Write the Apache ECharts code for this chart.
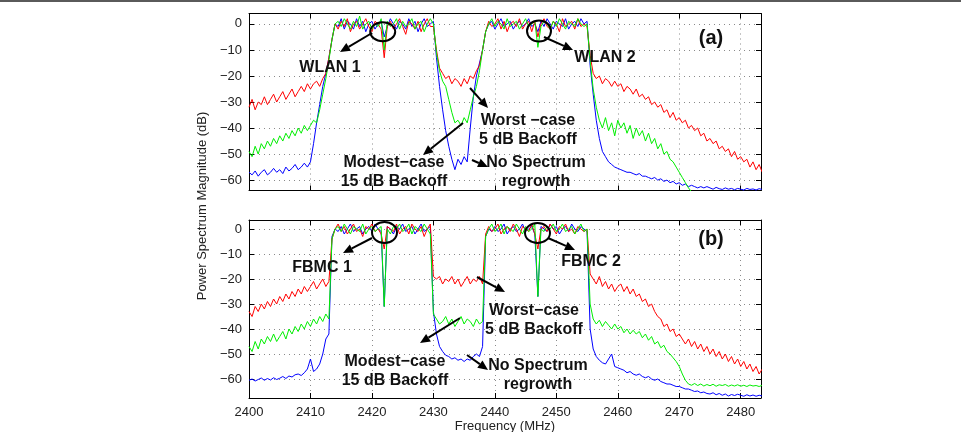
<!DOCTYPE html>
<html>
<head>
<meta charset="utf-8">
<script src="https://cdn.jsdelivr.net/npm/echarts@6/dist/echarts.min.js"></script>
<style>
	html, body { margin: 0; padding: 0; background: #fff; }
	#main { width: 961px; height: 432px; }
</style>
</head>
<body>
<div id="main"></div>
<script>
// sample grid of the spectrum (MHz), 0.5 MHz apart
var fStart = 2400, fStep = 0.5, nPts = 168;
var freq = [];
for(var i = 0; i < nPts; i++) {
	freq.push(fStart + i * fStep);
}

var xTicks = [2400, 2410, 2420, 2430, 2440, 2450, 2460, 2470, 2480];
var yTicks = [0, -10, -20, -30, -40, -50, -60];

/* (a) WLAN, one row = 5 MHz */
var redA = [
	-32, -29, -33, -30, -31, -28, -31, -29, -27, -30,
	-28, -26, -29, -27, -25, -28, -26, -24, -26, -23,
	-25, -23, -22, -24, -21, -19, -13, -6, 0, -2,
	1, -1, 2, -3, 0, 1, -2, 0, 2, -1,
	-3, 1, 0, -2, -13, -1, 1, -2, 0, 2,
	-1, -4, 1, 0, -2, 1, -3, 0, 2, -1,
	-1, -10, -17, -19, -21, -20, -23, -21, -22, -24,
	-21, -23, -20, -21, -18, -16, -10, -3, 1, -1,
	0, 2, -2, 1, -3, 0, 1, -1, 2, -2,
	0, 1, -3, 1, -5, 0, 2, -1, -2, 1,
	0, -3, 2, -1, 0, 1, -2, 2, -1, 0,
	-1, -12, -19, -21, -20, -23, -21, -22, -24, -22,
	-24, -23, -26, -24, -25, -27, -25, -28, -27, -29,
	-28, -31, -30, -32, -31, -34, -33, -36, -34, -37,
	-36, -38, -37, -40, -39, -41, -40, -43, -42, -45,
	-44, -46, -45, -48, -47, -49, -48, -51, -49, -52,
	-51, -53, -52, -55, -53, -56, -54, -57
];
var greenA = [
	-49, -51, -47, -50, -46, -48, -45, -47, -44, -46,
	-43, -45, -42, -44, -41, -43, -40, -42, -39, -41,
	-39, -37, -38, -33, -27, -21, -14, -6, 0, 1,
	-1, 2, 0, -2, 1, -1, 3, -2, 0, 1,
	-2, 0, -1, 2, -10, 1, -1, 0, 2, -2,
	1, -1, 0, 2, -2, 0, 1, -3, 0, 2,
	0, -11, -18, -22, -24, -29, -34, -38, -37, -39,
	-36, -38, -33, -28, -24, -18, -10, -3, 0, 2,
	-1, 1, 0, -2, 2, -1, 0, 1, -2, 0,
	2, -1, 0, 1, -9, -1, 1, 0, -2, 1,
	-1, 2, 0, -2, 1, 0, -1, 2, 0, -1,
	0, -14, -25, -32, -37, -40, -36, -41, -38, -43,
	-37, -40, -38, -42, -39, -44, -40, -43, -41, -45,
	-42, -46, -44, -48, -46, -50, -49, -52, -53, -55,
	-57, -59, -61, -63, -64.5, -65, -65, -65, -65, -65,
	-65, -65, -65, -65, -65, -65, -65, -65, -65, -65,
	-65, -65, -65, -65, -65, -65, -65, -65
];
var blueA = [
	-57, -58, -56.5, -58.5, -57, -56, -58, -57, -55.5, -57,
	-56, -57.5, -55, -56.5, -55.5, -54, -56, -55, -53.5, -55,
	-53, -46, -38, -31, -24, -19, -13, -6, 0, -1,
	2, -2, 1, 0, -2, 2, -1, 1, -3, 0,
	1, -2, 0, 1, -5, -1, 2, 0, -2, 1,
	0, -2, 2, -1, 1, -3, 0, 2, -1, 0,
	1, -13, -24, -33, -41, -47, -52, -56, -52, -54,
	-51, -53, -40, -28, -20, -15, -10, -3, 0, 1,
	-2, 0, 2, -1, 0, 1, -2, 0, 1, -1,
	0, 2, -1, 0, -3, 1, -1, 2, 0, -2,
	1, 0, -1, 2, -2, 0, 1, -1, 2, 0,
	1, -16, -27, -37, -44, -49, -51, -53, -54, -55,
	-55.5, -56, -56.5, -57, -57, -57.5, -58, -57.5, -58.5, -58.5,
	-59, -59.5, -59, -60, -59.5, -60.5, -60, -61, -60.5, -61.5,
	-61, -62, -61.5, -62.5, -62, -62.5, -63, -62.5, -63, -62.5,
	-63, -63.5, -62.8, -63.3, -63.6, -63, -63.5, -63.2, -63.7, -63.2,
	-63.5, -63.8, -63.2, -63.6, -63.4, -63.8, -63.3, -63.6
];

/* (b) FBMC */
var redB = [
	-33, -35, -31, -33, -30, -32, -29, -31, -28, -30,
	-27, -29, -26, -28, -25, -27, -24, -26, -23, -25,
	-23, -21, -24, -22, -20, -23, -21, -4, 0, 2,
	-1, 1, -2, 0, 2, -1, 0, -3, 1, 0,
	2, -1, 0, -2, -8, 1, 0, -1, 2, -2,
	0, 1, -2, 2, 0, -1, 1, -3, 0, 2,
	-19, -20, -19, -22, -20, -21, -19, -22, -20, -23,
	-21, -19, -22, -20, -21, -19, -22, -2, 1, -1,
	0, 2, -2, 0, 1, -1, 2, 0, -3, 1,
	0, -1, 2, -2, -8, 0, 1, -1, 2, 0,
	-2, 1, 0, 2, -1, 0, -2, 1, 0, -1,
	0, -18, -20, -22, -19, -23, -21, -24, -22, -25,
	-23, -22, -25, -23, -26, -24, -27, -26, -29, -28,
	-31, -30, -33, -35, -36, -39, -38, -41, -40, -43,
	-42, -44, -46, -44, -47, -45, -48, -46, -49, -47,
	-50, -48, -51, -49, -52, -50, -53, -51, -54, -52,
	-55, -53, -56, -54, -57, -55, -58, -56
];
var greenB = [
	-47, -49, -45, -48, -44, -46, -43, -45, -42, -45,
	-43, -41, -44, -40, -42, -39, -41, -38, -40, -37,
	-39, -36, -38, -35, -37, -34, -36, -4, 0, 1,
	-1, 2, 0, -2, 1, 0, -1, 2, -2, 0,
	1, -1, 0, 1, -31, 0, -2, 1, 0, 2,
	-1, 0, 2, -2, 1, 0, -1, 2, 0, -2,
	-34, -36, -38, -37, -35, -38, -36, -39, -37, -35,
	-38, -36, -37, -39, -36, -38, -37, -3, 0, 2,
	-1, 0, 2, -2, 1, 0, -1, 2, 0, -2,
	1, -1, 0, 2, -27, 0, -1, 1, 0, 2,
	-1, 0, 2, -1, 0, 1, -2, 0, 2, -1,
	0, -30, -36, -38, -36.5, -39, -37, -38.5, -40, -38,
	-40, -39, -41.5, -40, -42, -40.5, -42, -41, -43.5, -42,
	-44.5, -43, -46, -45, -47.5, -46.5, -49, -50, -51.5, -53,
	-55, -58, -60.5, -62, -62.5, -61.8, -62.6, -62, -62.8, -62.2,
	-62.7, -62.1, -62.9, -62.3, -62.6, -62.2, -62.9, -62.4, -62.8, -62.3,
	-62.9, -62.5, -63, -62.4, -62.8, -62.6, -63, -62.5
];
var blueB = [
	-60.5, -60, -60.8, -60.2, -59.6, -60.5, -59.8, -60.4, -59.5, -60.2,
	-59.7, -59, -59.8, -58.8, -59.2, -58.3, -58, -58.6, -57.5, -56,
	-52, -57, -56, -54, -50, -44, -42, -3, 0, -1,
	1, -2, 0, 2, -1, 0, 1, -2, 0, 1,
	-1, 2, 0, -1, -31, 1, 0, -2, 1, 0,
	2, -1, 0, 1, -2, 0, 2, -1, 0, 1,
	-33, -42, -47, -49, -50.5, -51, -52, -51.5, -52.5, -52,
	-53, -52, -52.5, -51, -50, -51, -47, -3, 0, -1,
	1, -1, 0, 2, -2, 0, 1, -1, 0, 2,
	-1, 0, 1, -2, -27, 1, 0, -1, 2, 0,
	1, -2, 0, 1, -1, 2, 0, -1, 1, 0,
	-1, -40, -48, -51, -52.5, -53.5, -54, -52, -50, -55,
	-55.5, -56, -56.5, -57.5, -57, -58, -58.5, -58, -59, -59.5,
	-59, -60, -60.5, -60, -61, -61.5, -62, -62, -62.5, -63,
	-63, -63.5, -64, -64, -64.5, -65, -64.8, -65.5, -65.2, -65.8,
	-66, -65.5, -66.3, -65.8, -66.5, -66, -66.8, -66.2, -66.6, -66.1,
	-66.5, -66.9, -66.3, -66.8, -66.4, -66.9, -66.5, -66.8
];

var FONT = '"Liberation Sans", Arial, Helvetica, sans-serif';

function pairs(vals) {
	var out = [];
	for(var i = 0; i < vals.length; i++) {
		out.push([freq[i], vals[i]]);
	}
	return out;
}

function minus(v) {
	return String(v).replace('-', '\u2212');
}

function xAx(grid, pos, labels) {
	return {
		type: 'value', gridIndex: grid, position: pos,
		min: 2400, max: 2483.3,
		axisLine: { show: true, onZero: false, lineStyle: { color: '#000', width: 1 } },
		axisTick: { show: true, inside: true, length: 5, customValues: xTicks, lineStyle: { color: '#000' } },
		axisLabel: { show: labels, margin: 8, color: '#222', fontSize: 13, fontFamily: FONT, customValues: xTicks, formatter: function(v) { return String(v); } },
		splitLine: { show: pos == 'bottom', lineStyle: { color: '#8a8a8a', type: [1, 4], width: 1 } }
	};
}

function yAx(grid, pos, lo, hi) {
	return {
		type: 'value', gridIndex: grid, position: pos,
		min: lo, max: hi,
		axisLine: { show: true, onZero: false, lineStyle: { color: '#000', width: 1 } },
		axisTick: { show: true, inside: true, length: 5, customValues: yTicks, lineStyle: { color: '#000' } },
		axisLabel: {
			show: pos == 'left', margin: 7, color: '#222', fontSize: 13, fontFamily: FONT,
			customValues: yTicks, formatter: minus
		},
		splitLine: { show: pos == 'left', lineStyle: { color: '#8a8a8a', type: [1, 4], width: 1 } }
	};
}

function line(name, color, vals, ax) {
	return {
		name: name, type: 'line', xAxisIndex: ax, yAxisIndex: ax,
		data: pairs(vals), showSymbol: false, symbol: 'none',
		lineStyle: { color: color, width: 1 }, itemStyle: { color: color },
		clip: true, animation: false
	};
}

function txt(s, x, y, size) {
	return {
		type: 'text', x: x, y: y, z: 100,
		style: {
			text: s, align: 'center', verticalAlign: 'middle',
			fontSize: size || 16, fontWeight: 'bold', fontFamily: FONT,
			lineHeight: 19, fill: '#111'
		}
	};
}

function arrow(x1, y1, x2, y2) {
	var dx = x2 - x1, dy = y2 - y1;
	var L = Math.sqrt(dx * dx + dy * dy);
	var ux = dx / L, uy = dy / L;
	var hl = 10, hw = 4.5;
	var bx = x2 - ux * hl, by = y2 - uy * hl;
	return [{
		type: 'line', z: 100,
		shape: { x1: x1, y1: y1, x2: bx, y2: by },
		style: { stroke: '#000', lineWidth: 2 }
	}, {
		type: 'polygon', z: 100,
		shape: { points: [[x2, y2], [bx - uy * hw, by + ux * hw], [bx + uy * hw, by - ux * hw]] },
		style: { fill: '#000' }
	}];
}

function ring(cx, cy, rx, ry) {
	return {
		type: 'ellipse', z: 100,
		shape: { cx: cx, cy: cy, rx: rx, ry: ry },
		style: { fill: 'none', stroke: '#000', lineWidth: 2 }
	};
}

var graphics = [
	{ type: 'rect', shape: { x: 0, y: 0, width: 961, height: 2 }, style: { fill: '#5a5a5a' } },
	{
		type: 'text', x: 202, y: 206, rotation: Math.PI / 2,
		style: { text: 'Power Spectrum Magnitude (dB)', align: 'center', verticalAlign: 'middle', fontSize: 13, fontFamily: FONT, fill: '#222' }
	},
	{
		type: 'text', x: 505, y: 426,
		style: { text: 'Frequency (MHz)', align: 'center', verticalAlign: 'middle', fontSize: 13, fontFamily: FONT, fill: '#222' }
	},
	txt('(a)', 711, 38, 20),
	txt('(b)', 711, 239, 20),
	txt('WLAN 1', 330, 68),
	txt('WLAN 2', 605, 58),
	txt('Worst \u2212case\n5 dB Backoff', 528, 130),
	txt('Modest\u2212case\n15 dB Backoff', 394, 172),
	txt('No Spectrum\nregrowth', 536, 172),
	txt('FBMC 1', 322, 268),
	txt('FBMC 2', 591, 262),
	txt('Worst\u2212case\n5 dB Backoff', 534, 320.5),
	txt('Modest\u2212case\n15 dB Backoff', 395, 371.5),
	txt('No Spectrum\nregrowth', 538, 375.5),
	ring(382.7, 31.7, 12.5, 9.5),
	ring(539, 31, 12, 10.5),
	ring(384.5, 232.5, 12.5, 10.5),
	ring(537.5, 233, 12.5, 10)
];
var arrows = [
	[372, 33, 340, 52], [544, 37, 573, 50], [470, 88, 488, 108], [463, 123, 423, 155], [472, 160, 488, 167],
	[372, 238, 343, 253], [548, 238, 575, 250], [477, 277, 505, 292], [460, 318, 420, 343], [467, 355, 488, 370]
];
for(var k = 0; k < arrows.length; k++) {
	graphics = graphics.concat(arrow(arrows[k][0], arrows[k][1], arrows[k][2], arrows[k][3]));
}

var option = {
	backgroundColor: '#fff',
	animation: false,
	grid: [
		{ left: 249, top: 13.5, width: 512, height: 177, containLabel: false },
		{ left: 249, top: 220, width: 512, height: 178, containLabel: false }
	],
	xAxis: [
		xAx(0, 'bottom', false),
		xAx(1, 'bottom', true),
		xAx(0, 'top', false),
		xAx(1, 'top', false)
	],
	yAxis: [
		yAx(0, 'left', -64, 4),
		yAx(1, 'left', -67.6, 3.6),
		yAx(0, 'right', -64, 4),
		yAx(1, 'right', -67.6, 3.6)
	],
	series: [
		line('No backoff', '#0000ff', blueA, 0),
		line('5 dB', '#ff0000', redA, 0),
		line('15 dB', '#00ee00', greenA, 0),
		line('No backoff', '#0000ff', blueB, 1),
		line('5 dB', '#ff0000', redB, 1),
		line('15 dB', '#00ee00', greenB, 1)
	],
	graphic: graphics
};

echarts.init(document.getElementById('main')).setOption(option);
</script>
</body>
</html>
